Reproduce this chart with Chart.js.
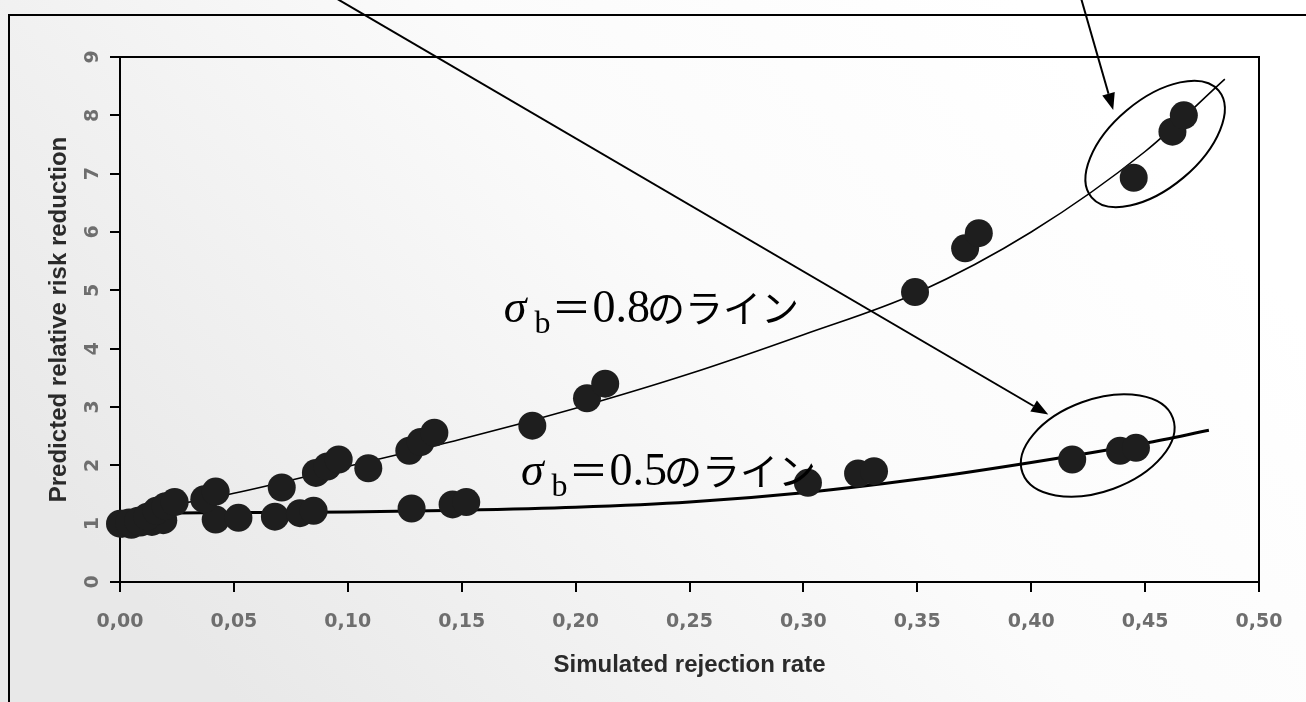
<!DOCTYPE html>
<html>
<head>
<meta charset="utf-8">
<script src="https://cdn.jsdelivr.net/npm/chart.js@4.4.0/dist/chart.umd.min.js"></script>
<style>
  html, body { margin: 0; padding: 0; background: #fff; }
  #wrap { width: 1306px; height: 702px; }
</style>
</head>
<body>
<div id="wrap"><canvas id="chart" width="1306" height="702"></canvas></div>
<script>
// sigma_b = 0.8 runs: simulated rejection rate vs predicted relative risk reduction
const highRate = [0.000, 0.004, 0.008, 0.012, 0.016, 0.020, 0.024, 0.037, 0.042, 0.071,
                  0.086, 0.091, 0.096, 0.109, 0.127, 0.132, 0.138, 0.181, 0.205, 0.213,
                  0.349, 0.371, 0.377, 0.445, 0.462, 0.467];
const highRisk = [1.00, 1.02, 1.05, 1.12, 1.22, 1.30, 1.37, 1.42, 1.55, 1.62,
                  1.87, 1.98, 2.10, 1.95, 2.25, 2.40, 2.56, 2.68, 3.15, 3.40,
                  4.97, 5.72, 5.98, 6.93, 7.72, 8.00];

// sigma_b = 0.5 runs
const lowRate = [0.001, 0.005, 0.009, 0.014, 0.019, 0.042, 0.052, 0.068, 0.079, 0.085,
                 0.128, 0.146, 0.152, 0.302, 0.324, 0.331, 0.418, 0.439, 0.446];
const lowRisk = [1.00, 0.98, 1.02, 1.03, 1.06, 1.07, 1.10, 1.12, 1.18, 1.22,
                 1.26, 1.33, 1.37, 1.70, 1.86, 1.90, 2.10, 2.25, 2.30];

// the two fitted lines
const highFitRate = [0, 0.05, 0.10, 0.15, 0.20, 0.25, 0.30, 0.35, 0.40, 0.45, 0.485];
const highFitRisk = [1.15, 1.52, 1.98, 2.45, 2.98, 3.57, 4.24, 4.96, 6.00, 7.38, 8.62];
const lowFitRate = [0, 0.05, 0.10, 0.15, 0.20, 0.25, 0.30, 0.35, 0.40, 0.45, 0.478];
const lowFitRisk = [1.18, 1.19, 1.20, 1.23, 1.28, 1.37, 1.53, 1.76, 2.05, 2.38, 2.60];

const xTickLabels = ["0,00", "0,05", "0,10", "0,15", "0,20", "0,25", "0,30", "0,35", "0,40", "0,45", "0,50"];
const yTickLabels = ["0", "1", "2", "3", "4", "5", "6", "7", "8", "9"];

const xTitle = "Simulated rejection rate";
const yTitle = "Predicted relative risk reduction";

// hand-drawn notes on top of the chart, placed in data units
const notes = [
  { digits: "0.8", at: [0.1685, 4.45] },
  { digits: "0.5", at: [0.1760, 1.667] },
];
const rings = [
  { at: [0.4544, 7.51], rx: 83, ry: 44, tilt: 40 },
  { at: [0.4292, 2.34], rx: 80, ry: 46, tilt: 20 },
];
const arrows = [
  { from: [0.082, 10.3], to: [0.4075, 2.87] },
  { from: [0.4212, 10.1], to: [0.436, 8.09] },
];

const toPoints = (xs, ys) => xs.map((x, i) => ({ x: x, y: ys[i] }));

const tickFont = { family: "DejaVu Sans", weight: "bold", size: 19 };
const titleFont = { family: "Liberation Sans", weight: "bold", size: 24 };

const drawNote = (ctx, x, y, digits) => {
  ctx.textAlign = "left";
  ctx.textBaseline = "alphabetic";
  ctx.fillStyle = "#000";
  ctx.font = 'italic 46px "Liberation Serif"';
  ctx.fillText("σ", x, y);
  x += ctx.measureText("σ").width + 8;
  ctx.font = '32px "Liberation Serif"';
  ctx.fillText("b", x, y + 11);
  x += ctx.measureText("b").width + 1;
  ctx.font = '40px "Noto Sans CJK JP"';
  ctx.fillText("＝", x, y);
  x += ctx.measureText("＝").width + 1;
  ctx.font = '46px "Liberation Serif"';
  ctx.fillText(digits, x, y);
  x += ctx.measureText(digits).width - 3;
  ctx.font = '38px "Noto Sans CJK JP"';
  ctx.fillText("のライン", x, y);
};

const drawArrow = (ctx, x1, y1, x2, y2) => {
  const a = Math.atan2(y2 - y1, x2 - x1);
  const len = 17, half = 6.5;
  const bx = x2 - len * Math.cos(a), by = y2 - len * Math.sin(a);
  ctx.beginPath();
  ctx.moveTo(x1, y1);
  ctx.lineTo(bx, by);
  ctx.stroke();
  ctx.beginPath();
  ctx.moveTo(x2, y2);
  ctx.lineTo(bx + half * Math.sin(a), by - half * Math.cos(a));
  ctx.lineTo(bx - half * Math.sin(a), by + half * Math.cos(a));
  ctx.closePath();
  ctx.fill();
};

const paperPlugin = {
  id: "paper",
  beforeDraw(chart) {
    const { ctx, width, height, chartArea: area } = chart;
    ctx.save();
    const g = ctx.createLinearGradient(width * 0.78, 0, width * 0.18, height);
    g.addColorStop(0, "#ffffff");
    g.addColorStop(0.4, "#fbfbfb");
    g.addColorStop(1, "#e8e8e8");
    ctx.fillStyle = g;
    ctx.fillRect(0, 0, width, height);

    ctx.strokeStyle = "#000";
    ctx.lineWidth = 2;
    // outer frame (top and left edges show in the scan)
    ctx.beginPath();
    ctx.moveTo(9, height);
    ctx.lineTo(9, 15);
    ctx.lineTo(width, 15);
    ctx.stroke();
    // plot area border
    ctx.beginPath();
    ctx.moveTo(area.left, area.top);
    ctx.lineTo(area.right, area.top);
    ctx.lineTo(area.right, area.bottom);
    ctx.stroke();
    ctx.restore();
  },
  afterDraw(chart) {
    const { ctx } = chart;
    const sx = chart.scales.x, sy = chart.scales.y;
    ctx.save();
    ctx.strokeStyle = "#000";
    ctx.fillStyle = "#000";
    ctx.lineWidth = 2;

    rings.forEach((r) => {
      ctx.beginPath();
      ctx.ellipse(sx.getPixelForValue(r.at[0]), sy.getPixelForValue(r.at[1]),
        r.rx, r.ry, -r.tilt * Math.PI / 180, 0, Math.PI * 2);
      ctx.stroke();
    });

    arrows.forEach((a) => {
      drawArrow(ctx,
        sx.getPixelForValue(a.from[0]), sy.getPixelForValue(a.from[1]),
        sx.getPixelForValue(a.to[0]), sy.getPixelForValue(a.to[1]));
    });

    notes.forEach((n) => {
      drawNote(ctx, sx.getPixelForValue(n.at[0]), sy.getPixelForValue(n.at[1]), n.digits);
    });
    ctx.restore();
  },
};

new Chart(document.getElementById("chart"), {
  type: "scatter",
  data: {
    datasets: [
      {
        label: "sigma 0.8",
        data: toPoints(highRate, highRisk),
        pointRadius: 14,
        pointBackgroundColor: "#1e1e1e",
        pointBorderWidth: 0,
        clip: false,
      },
      {
        label: "sigma 0.5",
        data: toPoints(lowRate, lowRisk),
        pointRadius: 14,
        pointBackgroundColor: "#1e1e1e",
        pointBorderWidth: 0,
        clip: false,
      },
      {
        label: "fit 0.8",
        data: toPoints(highFitRate, highFitRisk),
        showLine: true,
        pointRadius: 0,
        borderColor: "#000",
        borderWidth: 1.6,
        cubicInterpolationMode: "monotone",
        clip: false,
      },
      {
        label: "fit 0.5",
        data: toPoints(lowFitRate, lowFitRisk),
        showLine: true,
        pointRadius: 0,
        borderColor: "#000",
        borderWidth: 3,
        cubicInterpolationMode: "monotone",
        clip: false,
      },
    ],
  },
  options: {
    responsive: false,
    animation: false,
    layout: { padding: { top: 57, right: 47, left: 0, bottom: 0 } },
    plugins: {
      legend: { display: false },
      tooltip: { enabled: false },
    },
    scales: {
      x: {
        type: "linear",
        min: 0,
        max: 0.5,
        afterFit: (s) => { s.height = 120; },
        ticks: {
          stepSize: 0.05,
          autoSkip: false,
          maxRotation: 0,
          padding: 19,
          font: tickFont,
          color: "#6e6e6e",
          callback: (v, i) => xTickLabels[i],
        },
        grid: { drawOnChartArea: false, drawTicks: true, tickLength: 10, color: "#000", lineWidth: 2 },
        border: { display: true, color: "#000", width: 2 },
        title: { display: true, text: xTitle, font: titleFont, color: "#2a2a2a", padding: { top: 0, bottom: 22 } },
      },
      y: {
        min: 0,
        max: 9,
        afterFit: (s) => { s.width = 120; },
        ticks: {
          stepSize: 1,
          minRotation: 90,
          maxRotation: 90,
          crossAlign: "center",
          padding: 10,
          font: tickFont,
          color: "#6e6e6e",
          callback: (v, i) => yTickLabels[i],
        },
        grid: { drawOnChartArea: false, drawTicks: true, tickLength: 10, color: "#000", lineWidth: 2 },
        border: { display: true, color: "#000", width: 2 },
        title: { display: true, text: yTitle, font: titleFont, color: "#2a2a2a", padding: { top: 45, bottom: 0 } },
      },
    },
  },
  plugins: [paperPlugin],
});
</script>
</body>
</html>
